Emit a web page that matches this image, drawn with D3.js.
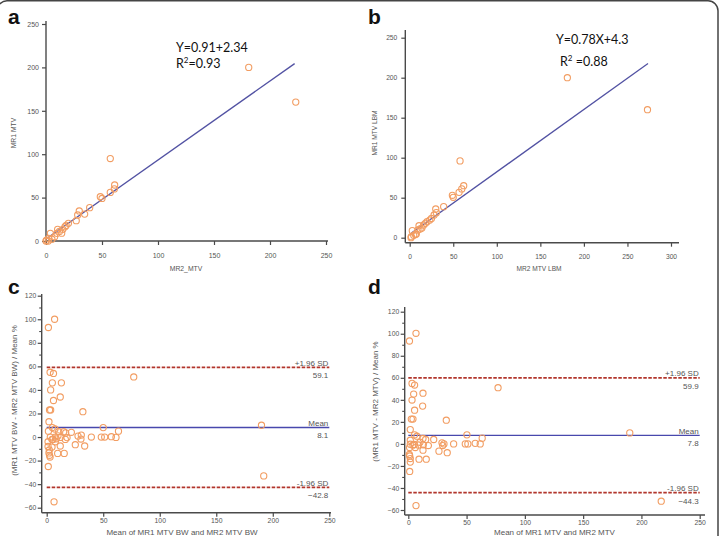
<!DOCTYPE html>
<html><head><meta charset="utf-8">
<script src="https://cdn.jsdelivr.net/npm/d3@7"></script>
<style>
body{margin:0;background:#fff;}
svg{display:block;font-family:"Liberation Sans",Arial,sans-serif;}
</style>
</head><body>
<svg id="fig" width="723" height="536"></svg>
<script>
// ---------- DATA ----------
// Panel a: MR2_MTV (x) vs MR1 MTV (y)
const aMR2 = [0, 0.5, 2, 2.4, 3.9, 5.3, 7.7, 9.8, 10.4, 12, 14, 15, 17, 18, 20, 27, 28.3, 29.7, 34.5, 39, 48.5, 50, 57.4, 57.4, 61, 61.3, 181, 223];
const aMR1 = [0, 1, 0, 3, 8.8, 2, 5, 8.8, 13.4, 11, 9, 13.4, 16.5, 18, 20.4, 23.4, 30, 34.6, 31, 38.4, 51, 49, 56, 95, 60, 64.5, 200, 160];
const aFit = [0.91, 2.34];          // slope, intercept
const aFitRange = [0, 222];
// Panel b: MR2 MTV LBM (x) vs MR1 MTV LBM (y)
const bMR2 = [1.9, 1.5, 3, 4.6, 6.5, 7.6, 9.5, 10.7, 12, 14, 16, 18, 19.9, 23, 25, 28, 29.9, 30.6, 39, 49, 50, 56.7, 57.8, 59.8, 62, 181, 273];
const bMR1 = [1.3, 0, 8.8, 3, 4, 4.6, 9.6, 15, 11, 12, 15.9, 18, 20, 22, 24, 28.4, 35.9, 31.3, 38.8, 53, 50.5, 56.7, 96, 61, 65, 200, 160];
const bFit = [0.78, 4.3];
const bFitRange = [2, 273.6];
// Panel c: Bland-Altman BW
const cMean = [1.5, 7, 3, 6, 5, 3.5, 13, 12, 6, 2.5, 3.5, 32, 2, 5, 7.3, 50, 63.5, 1.5, 77, 190, 192, 6.5, 1.4, 15, 16.8, 21.8, 10.6, 3.2, 7.6, 12, 18, 27.7, 30.6, 30.3, 39.5, 48.3, 51.3, 57.2, 61.3, 4.7, 1.2, 7.6, 16.5, 25.3, 33.6, 12, 1.2, 4.7, 9.7, 15.5, 2.3, 2, 2.5, 3, 10, 5.5, 8.5];
const cPct = [93, 100, 55, 54, 46, 40, 46, 34, 31, 23, 23, 21.5, 13, 8, 6.8, 8, 5, 5, 51, 10, -33, -55, -25, 4.5, 3.5, 4, 4.5, 0, 0, -0.3, -0.5, 0.8, 1.7, -1.7, 0, 0, 0, 0.3, -0.3, -2, -4, -4, -2, -6.5, -7.6, -7.6, -8, -8.5, -13.9, -13.9, -11, -13.5, -15.5, -17, 1, -2, -1.5];
const cRef = [59.1, 8.1, -42.8];
// Panel d: Bland-Altman
const dMean = [1, 6.6, 3.2, 5.4, 4.6, 3.2, 12.6, 12.3, 5.4, 2.6, 4, 32.6, 1.7, 5.4, 7.4, 50.3, 63.4, 1.7, 77, 190, 217, 6.6, 1.2, 12.6, 14.9, 21.8, 28.9, 30.6, 29.5, 38.9, 48.9, 51.1, 57.4, 61.7, 1.7, 5.1, 8.6, 12.9, 17.2, 1.1, 6, 26.3, 33.4, 12.6, 0.9, 1.7, 9.2, 15.4, 1.7, 1.2, 4, 10];
const dPct = [93.4, 100.4, 54.9, 53.4, 45.2, 39.8, 46, 34.3, 30.6, 22.5, 22.5, 21.5, 13, 8.2, 7, 8.2, 5.2, 3.3, 51, 10, -52, -56, -25, 4.9, 4, 4, 1, 0, -1.5, 0, 0, 0, 0.5, 0, -0.3, -0.5, -1, -0.8, -1.5, -3.3, -3.3, -6.6, -8, -5.7, -9.6, -13.3, -13.9, -13.9, -16.5, -11, -1.2, 1.5];
const dRef = [59.9, 7.8, -44.3];
const refLabels = ["+1.96 SD", "Mean", "-1.96 SD"];
// Ticks
const ticks0to250 = [0, 50, 100, 150, 200, 250];
const ticks0to300 = [0, 50, 100, 150, 200, 250, 300];
const baTicksY = [-60, -40, -20, 0, 20, 40, 60, 80, 100, 120];
const baMinorY = [-50, -30, -10, 10, 30, 50, 70, 90, 110];

// ---------- STYLE ----------
const PT = "#f29d62", FIT = "#5252a3", MEANC = "#4848ad", SDC = "#b2362c", AX = "#4a4a4a", TXT = "#555";

const svg = d3.select("#fig");
svg.append("rect").attr("x", -3).attr("y", 0.8).attr("width", 721).attr("height", 545)
  .attr("rx", 10).attr("fill", "#fff").attr("stroke", "#444").attr("stroke-width", 1.5);

function axes(p) {
  const g = svg.append("g");
  g.append("line").attr("x1", p.yAxisX).attr("x2", p.yAxisX).attr("y1", p.yTop).attr("y2", p.xAxisY)
    .attr("stroke", AX).attr("stroke-width", 1.4);
  g.append("line").attr("x1", p.yAxisX).attr("x2", p.xRight).attr("y1", p.xAxisY).attr("y2", p.xAxisY)
    .attr("stroke", AX).attr("stroke-width", 1.4);
  const xa = g.append("g").attr("transform", `translate(0,${p.xAxisY})`)
    .call(d3.axisBottom(p.x).tickValues(p.xTicks).tickSize(p.tick).tickPadding(p.xPad).tickFormat(d3.format("d")));
  const ya = g.append("g").attr("transform", `translate(${p.yAxisX},0)`)
    .call(d3.axisLeft(p.y).tickValues(p.yTicks).tickSize(p.tick).tickPadding(p.yPad).tickFormat(d3.format("d")));
  [xa, ya].forEach(s => {
    s.select(".domain").remove();
    s.attr("font-family", "'Liberation Sans',Arial,sans-serif").attr("font-size", p.tickFont);
    s.selectAll("line").attr("stroke", AX).attr("stroke-width", 1.2);
    s.selectAll("text").attr("fill", TXT);
  });
  if (p.yMinor) {
    const m = g.append("g").attr("transform", `translate(${p.yAxisX},0)`)
      .call(d3.axisLeft(p.y).tickValues(p.yMinor).tickSize(2.5).tickFormat(""));
    m.select(".domain").remove();
    m.selectAll("line").attr("stroke", AX).attr("stroke-width", 1.1);
  }
  // axis titles
  svg.append("text").attr("x", p.xTitle[0]).attr("y", p.xTitle[1]).attr("text-anchor", "middle")
    .attr("font-size", p.titleFont).attr("fill", TXT).text(p.xLabel);
  svg.append("text").attr("transform", `translate(${p.yTitle[0]},${p.yTitle[1]}) rotate(-90)`)
    .attr("text-anchor", "middle").attr("font-size", p.titleFont).attr("fill", TXT).text(p.yLabel);
  svg.append("text").attr("x", p.letter[0]).attr("y", p.letter[1]).attr("font-size", 21)
    .attr("font-weight", "bold").attr("fill", "#111").text(p.name);
}

function points(p, xs, ys) {
  svg.append("g").selectAll("circle").data(xs.map((v, i) => [v, ys[i]])).join("circle")
    .attr("cx", d => p.x(d[0])).attr("cy", d => p.y(d[1])).attr("r", 3.1)
    .attr("fill", "none").attr("stroke", PT).attr("stroke-width", 1.1);
}

function fitLine(p, fit, range) {
  svg.append("line")
    .attr("x1", p.x(range[0])).attr("y1", p.y(fit[0] * range[0] + fit[1]))
    .attr("x2", p.x(range[1])).attr("y2", p.y(fit[0] * range[1] + fit[1]))
    .attr("stroke", FIT).attr("stroke-width", 1.3);
}

function equation(x, y1, y2, line1, rText) {
  const f = "Lato, 'Open Sans', sans-serif";
  svg.append("text").attr("x", x[0]).attr("y", y1).attr("font-family", f).attr("font-size", 12.5).attr("fill", "#111").text(line1);
  const t = svg.append("text").attr("x", x[1]).attr("y", y2).attr("font-family", f).attr("font-size", 12.5).attr("fill", "#111");
  t.append("tspan").text("R");
  t.append("tspan").attr("dy", -5).attr("font-size", 8).text("2");
  t.append("tspan").attr("dy", 5).text(rText);
}

function refLines(p, vals) {
  vals.forEach((v, i) => {
    const yy = p.y(v);
    svg.append("line").attr("x1", p.x(0)).attr("x2", p.x(250)).attr("y1", yy).attr("y2", yy)
      .attr("stroke", i === 1 ? MEANC : SDC).attr("stroke-width", i === 1 ? 1.3 : 1.7)
      .attr("stroke-dasharray", i === 1 ? null : "3.5,1.5");
    svg.append("text").attr("x", p.x(250) - 1).attr("y", yy - 1.8).attr("text-anchor", "end")
      .attr("font-size", 8).attr("fill", TXT).text(refLabels[i]);
    svg.append("text").attr("x", p.x(250) - 1).attr("y", yy + 11).attr("text-anchor", "end")
      .attr("font-size", 8).attr("fill", TXT).text(d3.format(".1f")(v));
  });
}

// ---------- PANEL a ----------
const pa = {
  name: "a", letter: [8, 24],
  x: d3.scaleLinear().domain([0, 250]).range([46, 326]),
  y: d3.scaleLinear().domain([0, 250]).range([241, 24]),
  xAxisY: 241, yAxisX: 46, yTop: 21, xRight: 328, tick: 4, xPad: 8, yPad: 3,
  xTicks: ticks0to250, yTicks: ticks0to250, tickFont: 7, titleFont: 6.8,
  xLabel: "MR2_MTV", yLabel: "MR1 MTV", xTitle: [186, 271], yTitle: [16, 133]
};
axes(pa); fitLine(pa, aFit, aFitRange); points(pa, aMR2, aMR1);
equation([176, 176], 52, 68, "Y=0.91+2.34", "=0.93");

// ---------- PANEL b ----------
const pb = {
  name: "b", letter: [368, 24],
  x: d3.scaleLinear().domain([0, 300]).range([409.7, 671]),
  y: d3.scaleLinear().domain([0, 250]).range([237.7, 37.7]),
  xAxisY: 242.7, yAxisX: 405.3, yTop: 30, xRight: 679, tick: 4, xPad: 8, yPad: 4,
  xTicks: ticks0to300, yTicks: ticks0to250, tickFont: 6.7, titleFont: 6.6,
  xLabel: "MR2 MTV LBM", yLabel: "MR1 MTV LBM", xTitle: [539, 271], yTitle: [377, 133]
};
axes(pb); fitLine(pb, bFit, bFitRange); points(pb, bMR2, bMR1);
equation([556, 560], 44, 66, "Y=0.78X+4.3", " =0.88");

// ---------- PANEL c ----------
const pc = {
  name: "c", letter: [8, 294],
  x: d3.scaleLinear().domain([0, 250]).range([46.7, 329.3]),
  y: d3.scaleLinear().domain([-60, 120]).range([507.7, 295.7]),
  xAxisY: 512.7, yAxisX: 41.7, yTop: 294, xRight: 331, tick: 4, xPad: 1.5, yPad: 1.5,
  xTicks: ticks0to250, yTicks: baTicksY, yMinor: baMinorY, tickFont: 6.8, titleFont: 8,
  xLabel: "Mean of MR1 MTV BW and MR2 MTV BW", yLabel: "(MR1 MTV BW - MR2 MTV BW) / Mean %",
  xTitle: [182, 534.5], yTitle: [16.5, 400.5]
};
axes(pc); refLines(pc, cRef); points(pc, cMean, cPct);

// ---------- PANEL d ----------
const pd = {
  name: "d", letter: [368, 294],
  x: d3.scaleLinear().domain([0, 250]).range([408.3, 699.7]),
  y: d3.scaleLinear().domain([-60, 120]).range([510, 311.7]),
  xAxisY: 515, yAxisX: 404.7, yTop: 307, xRight: 705, tick: 4, xPad: 1.5, yPad: 1.5,
  xTicks: ticks0to250, yTicks: baTicksY, yMinor: baMinorY, tickFont: 6.8, titleFont: 8,
  xLabel: "Mean of MR1 MTV and MR2 MTV", yLabel: "(MR1 MTV - MR2 MTV) / Mean %",
  xTitle: [554.5, 534.5], yTitle: [377.5, 401.5]
};
axes(pd); refLines(pd, dRef); points(pd, dMean, dPct);
</script>
</body></html>
